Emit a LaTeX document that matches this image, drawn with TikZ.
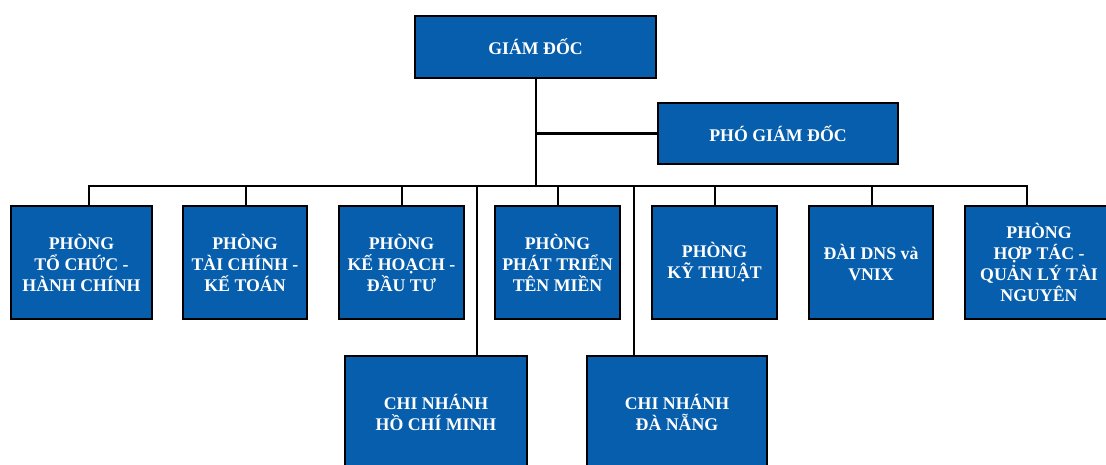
\documentclass[tikz,border=0pt]{standalone}
\usepackage{fontspec}
\setmainfont{Liberation Serif}
\definecolor{boxblue}{RGB}{6,94,172}
\begin{document}
\begin{tikzpicture}[x=1pt,y=-1pt,
  box/.style={draw=black,line width=2.2pt,fill=boxblue,text=white,
    font=\fontsize{17.8}{21}\selectfont\bfseries,align=center,inner sep=0pt,
    anchor=center},
  link/.style={draw=black,line width=2.2pt}]
\useasboundingbox (0,0) rectangle (1106,464);
\clip (0,0) rectangle (1106,464);
% top
\node[box,minimum width=241pt,minimum height=62pt] (gd) at (535.5,47) {GIÁM ĐỐC};
\node[box,minimum width=240pt,minimum height=61pt] (pgd) at (778,133.5) {PHÓ GIÁM ĐỐC};
% row
\node[box,minimum width=141pt,minimum height=113pt] (b1) at (81.5,262.5) {PHÒNG\\TỔ CHỨC -\\HÀNH CHÍNH};
\node[box,minimum width=124pt,minimum height=113pt] (b2) at (245,262.5) {PHÒNG\\TÀI CHÍNH -\\KẾ TOÁN};
\node[box,minimum width=125pt,minimum height=113pt] (b3) at (401.5,262.5) {PHÒNG\\KẾ HOẠCH -\\ĐẦU TƯ};
\node[box,minimum width=125pt,minimum height=113pt] (b4) at (557.5,262.5) {PHÒNG\\PHÁT TRIỂN\\TÊN MIỀN};
\node[box,minimum width=125pt,minimum height=113pt] (b5) at (714.5,262.5) {PHÒNG\\KỸ THUẬT};
\node[box,minimum width=124pt,minimum height=113pt] (b6) at (871,262.5) {ĐÀI DNS và\\VNIX};
\node[box,minimum width=148pt,minimum height=113pt] (b7) at (1039,262.5) {PHÒNG\\HỢP TÁC -\\QUẢN LÝ TÀI\\NGUYÊN};
% branches
\node[box,minimum width=182pt,minimum height=112pt] (hcm) at (436,412) {CHI NHÁNH\\HỒ CHÍ MINH};
\node[box,minimum width=180pt,minimum height=112pt] (dn) at (677,412) {CHI NHÁNH\\ĐÀ NẴNG};
% coordinates
\coordinate (busL) at (89,186);
\coordinate (busR) at (1027,186);
\coordinate (busC) at (536,186);
\coordinate (pj) at (536,133.5);
% connectors
\draw[link] (gd.south -| busC) -- (busC);
\draw[link] (pj) -- (pgd.west);
\draw[link] (busL |- b1.north) -- (busL) -- (busR) -- (busR |- b7.north);
\draw[link] (246,186) -- (246,0 |- b2.north);
\draw[link] (402,186) -- (402,0 |- b3.north);
\draw[link] (558,186) -- (558,0 |- b4.north);
\draw[link] (715,186) -- (715,0 |- b5.north);
\draw[link] (872,186) -- (872,0 |- b6.north);
\draw[link] (477,186) -- (477,0 |- hcm.north);
\draw[link] (634,186) -- (634,0 |- dn.north);
\end{tikzpicture}
\end{document}
